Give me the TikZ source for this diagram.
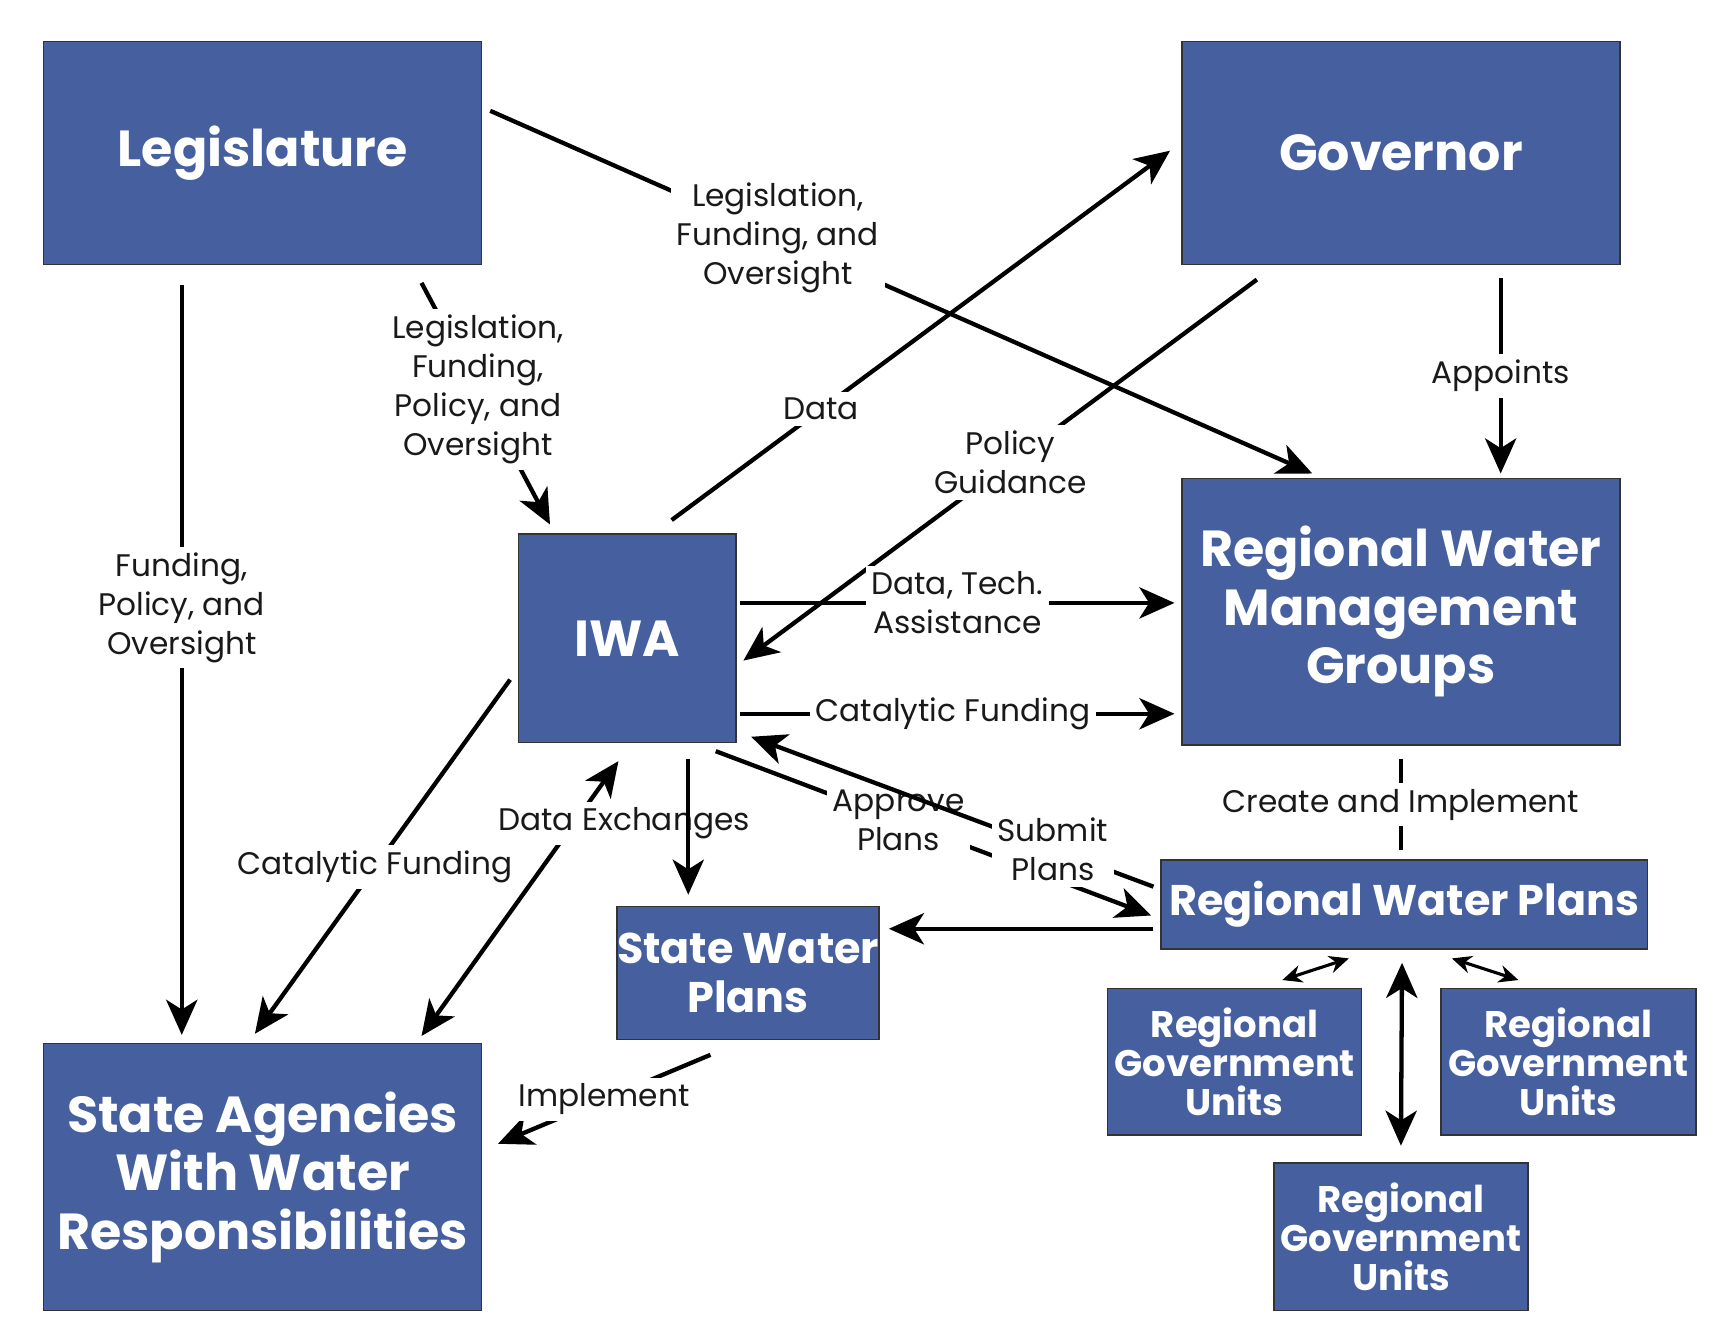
\documentclass[tikz,border=0pt]{standalone}
\usepackage{fontspec}
\setmainfont{Poppins}
\usetikzlibrary{arrows.meta, positioning}
\definecolor{boxblue}{HTML}{465F9F}
\tikzset{
  block/.style={draw=black!80, line width=0.4pt, fill=boxblue, text=white, font=\bfseries, align=center, inner sep=0pt},
  lbl/.style={fill=white, font=\fontsize{8}{10}\selectfont, align=center, inner sep=1.5pt, text=black!90},
  link/.style={line width=1.1pt, -{Stealth[length=9pt,width=8pt,inset=2.5pt]}},
}
\begin{document}
\begin{tikzpicture}[x=0.01cm, y=-0.01cm]
  \useasboundingbox (0,0) rectangle (1560,1207);
  % boxes
  \node[block, minimum width=3.95cm, minimum height=2.01cm, font=\bfseries\fontsize{13}{15}\selectfont] (leg) at (237,138) {Legislature};
  \node[block, minimum width=3.95cm, minimum height=2.01cm, font=\bfseries\fontsize{13}{15}\selectfont] (gov) at (1264,138) {Governor};
  \node[block, minimum width=3.95cm, minimum height=2.40cm, font=\bfseries\fontsize{13}{15}\selectfont] (rwmg) at (1264,552) {Regional Water\\Management\\Groups};
  \node[block, minimum width=1.96cm, minimum height=1.88cm, font=\bfseries\fontsize{13}{15}\selectfont] (iwa) at (566,576) {IWA};
  \node[block, minimum width=3.95cm, minimum height=2.41cm, font=\bfseries\fontsize{13}{15}\selectfont] (sa) at (237,1062) {State Agencies\\With Water\\Responsibilities};
  \node[block, minimum width=2.20cm, minimum height=1.20cm, font=\bfseries\fontsize{11}{12.5}\selectfont] (swp) at (675,878) {State Water\\Plans};
  \node[block, minimum width=4.39cm, minimum height=0.80cm, font=\bfseries\fontsize{11}{12.5}\selectfont] (rwp) at (1267,816) {Regional Water Plans};
  \node[block, minimum width=2.29cm, minimum height=1.32cm, font=\bfseries\fontsize{9.5}{10}\selectfont] (rgu1) at (1114,958) {Regional\\Government\\Units};
  \node[block, minimum width=2.30cm, minimum height=1.32cm, font=\bfseries\fontsize{9.5}{10}\selectfont] (rgu2) at (1415,958) {Regional\\Government\\Units};
  \node[block, minimum width=2.29cm, minimum height=1.33cm, font=\bfseries\fontsize{9.5}{10}\selectfont] (rgu3) at (1264,1116) {Regional\\Government\\Units};
  % connectors
  \draw[link] ([shift={(7,-38)}]leg.east) -- node[lbl, pos=0.35] {Legislation,\\Funding, and\\Oversight} ([shift={(-80,-4)}]rwmg.north);
  \draw[link] ([shift={(-55,16)}]leg.south east) -- node[lbl, pos=0.44] {Legislation,\\Funding,\\Policy, and\\Oversight} ([shift={(29,-8)}]iwa.north west);
  \draw[link] ([shift={(-73,18)}]leg.south) -- node[lbl, pos=0.43] {Funding,\\Policy, and\\Oversight} ([shift={(-73,-7)}]sa.north);
  \draw[link] ([shift={(40,-12)}]iwa.north) -- node[lbl, pos=0.3] {Data} ([shift={(-10,-2)}]gov.west);
  \draw[link] ([shift={(-130,13)}]gov.south) -- node[lbl, pos=0.48] {Policy\\Guidance} ([shift={(6,20)}]iwa.east);
  \draw[link] ([shift={(90,12)}]gov.south) -- node[lbl, pos=0.5] {Appoints} ([shift={(90,-4)}]rwmg.north);
  \draw[link] ([shift={(3,-32)}]iwa.east) -- node[lbl] {Data, Tech.\\Assistance} ([shift={(-6,-8)}]rwmg.west);
  \draw[link] ([shift={(3,68)}]iwa.east) -- node[lbl, pos=0.49] {Catalytic Funding} ([shift={(-6,92)}]rwmg.west);
  \draw[link] ([shift={(-7,132)}]iwa.north west) -- node[lbl, pos=0.53] {Catalytic Funding} ([shift={(-7,-8)}]sa.north);
  \draw[link, {Stealth[length=9pt,width=8pt,inset=2.5pt]}-{Stealth[length=9pt,width=8pt,inset=2.5pt]}] ([shift={(-8,16)}]iwa.south) -- ([shift={(-55,-6)}]sa.north east);
  \node[lbl] (dx) at (563,743) {Data Exchanges};
  \draw[link] ([shift={(55,14)}]iwa.south) -- ([shift={(-54,-10)}]swp.north);
  \draw[link] ([shift={(-19,7)}]iwa.south east) -- node[lbl, pos=0.42] {Approve\\Plans} ([shift={(-8,10)}]rwp.west);
  \draw[link] ([shift={(-6,-16)}]rwp.west) -- node[lbl, pos=0.25] {Submit\\Plans} ([shift={(13,-6)}]iwa.south east);
  \draw[link] ([shift={(-6,22)}]rwp.west) -- ([shift={(8,-40)}]swp.east);
  \draw[line width=1.1pt] ([shift={(-3,-8)}]rwp.north) -- node[lbl] {Create and Implement} ([shift={(0,12)}]rwmg.south);
  \draw[link] ([shift={(-34,13)}]swp.south) -- node[lbl] {Implement} ([shift={(14,-30)}]sa.east);
  \draw[line width=0.8pt, {Stealth[length=5pt,width=4.5pt]}-{Stealth[length=5pt,width=4.5pt]}] ([shift={(-50,8)}]rwp.south) -- ([shift={(43,-7)}]rgu1.north);
  \draw[line width=0.8pt, {Stealth[length=5pt,width=4.5pt]}-{Stealth[length=5pt,width=4.5pt]}] ([shift={(43,8)}]rwp.south) -- ([shift={(-45,-7)}]rgu2.north);
  \draw[link, {Stealth[length=9pt,width=8pt,inset=2.5pt]}-{Stealth[length=9pt,width=8pt,inset=2.5pt]}] ([shift={(-2,12)}]rwp.south) -- ([shift={(0,-15)}]rgu3.north);
\end{tikzpicture}
\end{document}
